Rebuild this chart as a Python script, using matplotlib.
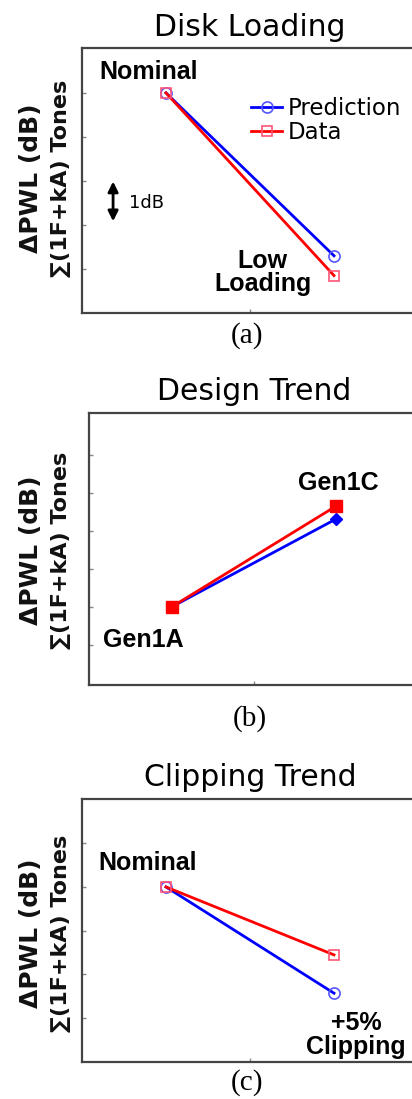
import matplotlib
matplotlib.use('Agg')
import matplotlib.pyplot as plt

# x positions of the two cases and the tick between them
x_pos = [0.5, 1.5]
x_tick = [1.0]

# Disk loading (dB relative to nominal)
disk_labels = ['Nominal', 'Low\nLoading']
disk_pred = [0.0, -3.7]
disk_data = [0.0, -4.15]
disk_yticks = [-4, -3, -2, -1, 0]

# Design trend
design_labels = ['Gen1A', 'Gen1C']
design_pred = [0.0, 2.32]
design_data = [0.0, 2.66]
design_yticks = [-1, 0, 1, 2, 3, 4]

# Clipping trend
clip_labels = ['Nominal', '+5%\nClipping']
clip_pred = [0.0, -2.44]
clip_data = [0.0, -1.56]
clip_yticks = [-3, -2, -1, 0, 1]

W, H = 412, 1099
fig = plt.figure(figsize=(W / 100, H / 100), dpi=100)


def px_axes(left, top, right, bottom):
    return fig.add_axes([left / W, 1 - bottom / H, (right - left) / W, (bottom - top) / H])


def style(ax, yticks, ylim, title):
    ax.set_xlim(0, 2)
    ax.set_ylim(*ylim)
    ax.set_xticks(x_tick)
    ax.set_yticks(yticks)
    ax.set_xticklabels([])
    ax.set_yticklabels([])
    ax.tick_params(direction='in', length=3, width=1, color='#888888')
    for s in ax.spines.values():
        s.set_color('#444444')
        s.set_linewidth(1.6)
    ax.set_title(title, fontsize=21.5, family='DejaVu Sans', pad=9)


def ylabel(ycenter):
    fig.text(31 / W, 1 - ycenter / H, '\u0394PWL (dB)', rotation=90, ha='center', va='center',
             fontsize=18, family='DejaVu Sans', weight='bold', color='#111111')
    fig.text(61 / W, 1 - ycenter / H, '\u2211(1F+kA) Tones', rotation=90, ha='center', va='center',
             fontsize=16, family='DejaVu Sans', weight='bold', color='#111111')


def caption(x, y, s):
    fig.text(x / W, 1 - y / H, s, ha='center', va='center', fontsize=21, family='Liberation Serif')


bold = dict(fontsize=18, family='Liberation Sans', weight='bold', ha='center', va='center')

# (a) Disk Loading
ax1 = px_axes(82, 48, 418, 313)
style(ax1, disk_yticks, (-5.0, 1.02), 'Disk Loading')
ax1.plot(x_pos, disk_pred, '-o', color='blue', lw=2, ms=8, mfc='none', mec='#5555ff', mew=1.2,
         label='Prediction')
ax1.plot(x_pos, disk_data, '-s', color='red', lw=2, ms=7, mfc='none', mec='#ff5577', mew=1.2,
         label='Data')
ax1.legend(loc='upper left', bbox_to_anchor=(0.47, 0.86), frameon=False,
           handlelength=1.35, handletextpad=0.25, labelspacing=0.05, borderpad=0,
           prop={'family': 'DejaVu Sans', 'size': 16.5})
ax1.text(0.396, 0.48, disk_labels[0], **bold)
ax1.text(1.077, -4.07, disk_labels[1], linespacing=0.95, **bold)
ax1.annotate('', xy=(0.185, -2.98), xytext=(0.185, -1.95),
             arrowprops=dict(arrowstyle='<|-|>', color='black', lw=2, mutation_scale=15))
ax1.text(0.28, -2.5, '1dB', fontsize=13, family='DejaVu Sans', va='center', ha='left')
ylabel(178)
caption(247, 336, '(a)')

# (b) Design Trend
ax2 = px_axes(89, 413, 419, 685)
style(ax2, design_yticks, (-2.05, 5.1), 'Design Trend')
ax2.plot(x_pos, design_pred, '-D', color='blue', lw=2, ms=6)
ax2.plot(x_pos, design_data, '-s', color='red', lw=2, ms=8.5)
ax2.text(0.33, -0.87, design_labels[0], **bold)
ax2.text(1.51, 3.27, design_labels[1], **bold)
ylabel(550)
caption(250, 719, '(b)')

# (c) Clipping Trend
ax3 = px_axes(82, 799, 418, 1062)
style(ax3, clip_yticks, (-4.02, 2.02), 'Clipping Trend')
ax3.plot(x_pos, clip_pred, '-o', color='blue', lw=2, ms=8, mfc='none', mec='#5555ff', mew=1.2)
ax3.plot(x_pos, clip_data, '-s', color='red', lw=2, ms=7, mfc='none', mec='#ff5577', mew=1.2)
ax3.text(0.39, 0.55, clip_labels[0], **bold)
ax3.text(1.63, -3.4, clip_labels[1], linespacing=0.95, **bold)
ylabel(933)
caption(247, 1083, '(c)')

fig.savefig('out.png', dpi=100, facecolor='white')
